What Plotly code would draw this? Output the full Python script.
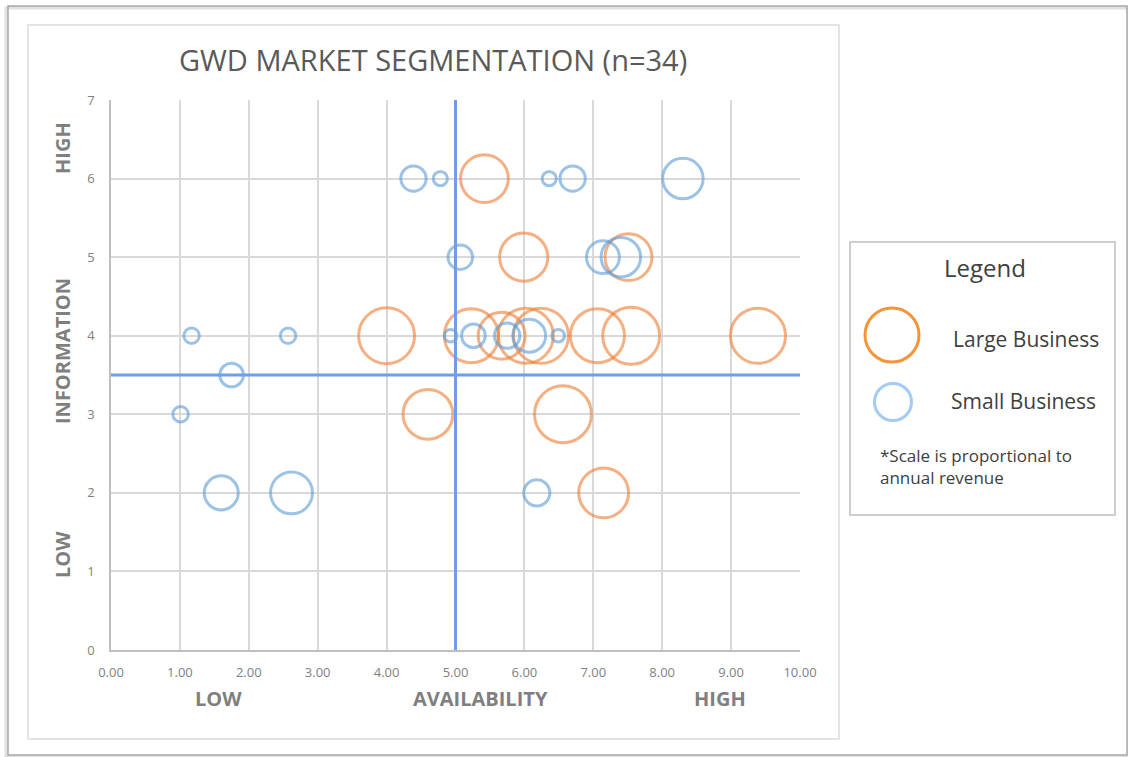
import plotly.graph_objects as go

# bubble data (revenue drives bubble area)
small_x = [4.39, 4.78, 6.36, 6.70, 8.30, 5.07, 7.14, 7.40, 1.17, 2.57,
           4.93, 5.26, 5.75, 6.07, 6.49, 1.75, 1.01, 1.60, 2.62, 6.18]
small_y = [6, 6, 6, 6, 6, 5, 5, 5, 4, 4,
           4, 4, 4, 4, 4, 3.5, 3, 2, 2, 2]
small_rev = [16, 5, 5, 16, 41, 15, 27, 39, 6, 6,
             4, 14, 16, 27, 4, 14, 6, 29, 44, 17]

large_x = [5.42, 5.99, 7.51, 4.00, 5.23, 5.67, 6.02, 6.24, 7.06, 7.55,
           9.39, 4.60, 6.56, 7.15]
large_y = [6, 5, 5, 4, 4, 4, 4, 4, 4, 4,
           4, 3, 3, 2]
large_rev = [57, 58, 55, 78, 73, 55, 76, 76, 73, 81,
             76, 62, 81, 62]

x_ticks = [0, 1, 2, 3, 4, 5, 6, 7, 8, 9, 10]
y_ticks = [0, 1, 2, 3, 4, 5, 6, 7]
avail_split = 5
info_split = 3.5

ORANGE = 'rgba(237,125,49,0.85)'
BLUE = 'rgba(91,155,213,0.85)'
GREY_TXT = '#595959'
LABEL_GREY = '#7f7f7f'
FONT = 'Open Sans, sans-serif'

# plot area in pixels: x 111..800, y 100..650
L, R, T, B = 111, 800, 100, 650


def px(x):
    return (x - L) / (R - L)


def py(y):
    return (B - y) / (B - T)


fig = go.Figure()

fig.add_trace(go.Scatter(
    x=large_x, y=large_y, mode='markers', name='Large Business',
    marker=dict(size=large_rev, sizemode='area', sizeref=0.05,
                color='rgba(0,0,0,0)', line=dict(color=ORANGE, width=3)),
    showlegend=False))

fig.add_trace(go.Scatter(
    x=small_x, y=small_y, mode='markers', name='Small Business',
    marker=dict(size=small_rev, sizemode='area', sizeref=0.05,
                color='rgba(0,0,0,0)', line=dict(color=BLUE, width=3)),
    showlegend=False))

# quadrant split lines
fig.add_vline(x=avail_split, line=dict(color='#6d9eeb', width=3))
fig.add_hline(y=info_split, line=dict(color='#6d9eeb', width=3))

shapes = [
    # outer screenshot frame with a soft shadow
    dict(type='rect', xref='paper', yref='paper', x0=px(6), x1=px(1129), y0=py(757), y1=py(8),
         line=dict(color='#e0e0e0', width=3), layer='below'),
    dict(type='rect', xref='paper', yref='paper', x0=px(8), x1=px(1127), y0=py(755), y1=py(6),
         line=dict(color='#a6a6a6', width=1.5), layer='below'),
    # chart area border
    dict(type='rect', xref='paper', yref='paper', x0=px(28), x1=px(839), y0=py(739), y1=py(25),
         line=dict(color='#dcdcdc', width=1.5), layer='below'),
    # legend box
    dict(type='rect', xref='paper', yref='paper', x0=px(850), x1=px(1115), y0=py(515), y1=py(242),
         line=dict(color='#bfbfbf', width=1.5)),
    # legend symbols
    dict(type='circle', xref='paper', yref='paper', xsizemode='pixel', ysizemode='pixel',
         xanchor=px(892), yanchor=py(335), x0=-27, x1=27, y0=-27, y1=27,
         line=dict(color='#f5953a', width=3)),
    dict(type='circle', xref='paper', yref='paper', xsizemode='pixel', ysizemode='pixel',
         xanchor=px(893), yanchor=py(402), x0=-18.5, x1=18.5, y0=-18.5, y1=18.5,
         line=dict(color='#a3cbf5', width=3)),
]
for s in shapes:
    fig.add_shape(**s)

ann = [
    dict(text='GWD MARKET SEGMENTATION (n=34)', x=px(433), y=py(60),
         font=dict(size=29, color=GREY_TXT, family=FONT)),
    dict(text='<b>LOW</b>', x=px(218), y=py(698), font=dict(size=20, color=LABEL_GREY, family=FONT)),
    dict(text='<b>AVAILABILITY</b>', x=px(480), y=py(698), font=dict(size=20, color=LABEL_GREY, family=FONT)),
    dict(text='<b>HIGH</b>', x=px(720), y=py(698), font=dict(size=20, color=LABEL_GREY, family=FONT)),
    dict(text='<b>HIGH</b>', x=px(62), y=py(148), textangle=-90, font=dict(size=20, color=LABEL_GREY, family=FONT)),
    dict(text='<b>INFORMATION</b>', x=px(62), y=py(351), textangle=-90, font=dict(size=20, color=LABEL_GREY, family=FONT)),
    dict(text='<b>LOW</b>', x=px(62), y=py(555), textangle=-90, font=dict(size=20, color=LABEL_GREY, family=FONT)),
    dict(text='Legend', x=px(985), y=py(267), font=dict(size=24, color='#404040', family=FONT)),
    dict(text='Large Business', x=px(951), y=py(339), xanchor='left',
         font=dict(size=21, color='#404040', family=FONT)),
    dict(text='Small Business', x=px(949), y=py(401), xanchor='left',
         font=dict(size=21, color='#404040', family=FONT)),
    dict(text='*Scale is proportional to<br>annual revenue', x=px(878), y=py(466), xanchor='left',
         align='left', font=dict(size=17, color='#404040', family=FONT)),
]
for a in ann:
    a.setdefault('xanchor', 'center')
    fig.add_annotation(xref='paper', yref='paper', yanchor='middle', showarrow=False, **a)

fig.update_layout(
    width=1128, height=757, autosize=False,
    margin=dict(l=L, r=1128 - R, t=T, b=757 - B),
    paper_bgcolor='white', plot_bgcolor='white',
    font=dict(family=FONT, color=LABEL_GREY),
    xaxis=dict(range=[0, 10], tickvals=x_ticks, tickformat='.2f', showgrid=True,
               gridcolor='#d9d9d9', gridwidth=1.5, zeroline=False, showline=True,
               linecolor='#bfbfbf', linewidth=1.5, ticks='', ticklabelstandoff=10,
               tickfont=dict(size=13, color=LABEL_GREY, family='Liberation Sans Narrow, Open Sans')),
    yaxis=dict(range=[0, 7], tickvals=y_ticks, showgrid=True,
               gridcolor='#d9d9d9', gridwidth=1.5, zeroline=False, showline=True,
               linecolor='#bfbfbf', linewidth=1.5, ticks='', ticklabelstandoff=12,
               tickfont=dict(size=13, color=LABEL_GREY, family='Liberation Sans Narrow, Open Sans')),
)

fig.write_html("out.html", config={'displayModeBar': False},
               post_script="document.body.style.margin='0';")
